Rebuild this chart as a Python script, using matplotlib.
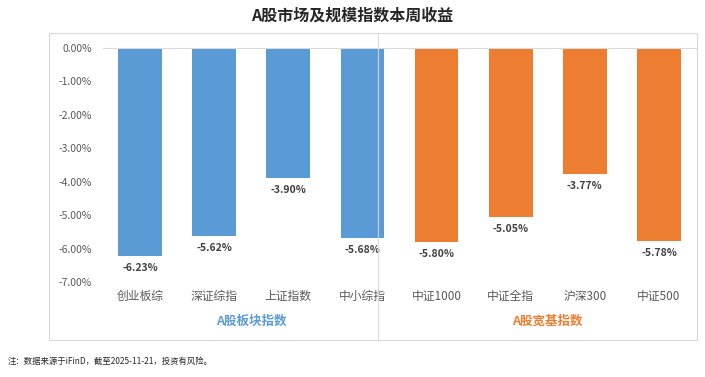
import matplotlib
matplotlib.use("Agg")
import matplotlib.pyplot as plt
from matplotlib.patches import Rectangle
from matplotlib.lines import Line2D

plt.rcParams['font.family'] = ['Noto Sans CJK SC', 'DejaVu Sans']

categories = ["创业板综", "深证综指", "上证指数", "中小综指", "中证1000", "中证全指", "沪深300", "中证500"]
values = [-6.23, -5.62, -3.90, -5.68, -5.80, -5.05, -3.77, -5.78]
groups = ["A股板块指数", "A股宽基指数"]
group_sizes = [4, 4]
yticks = [0, -1, -2, -3, -4, -5, -6, -7]
title = "A股市场及规模指数本周收益"
note = "注：数据来源于iFinD，截至2025-11-21，投资有风险。"

blue = "#5B9BD5"
orange = "#ED7D31"
group_colors = [blue, orange]
colors = []
for c, n in zip(group_colors, group_sizes):
    colors += [c] * n

fig = plt.figure(figsize=(7.05, 3.77), dpi=100)
ax = fig.add_axes([103/705, 1 - 282/377, (696-103)/705, (282-48)/377])

x = list(range(len(categories)))
ax.bar(x, values, width=0.59, color=colors, zorder=2)
ax.set_ylim(-7, 0)
ax.set_xlim(-0.5, len(categories) - 0.5)
ax.set_yticks(yticks)
ax.set_yticklabels([f"{v:.2f}%" for v in yticks], color="#595959", fontsize=7.5)
ax.set_xticks(x)
ax.set_xticklabels(categories, color="#595959", fontsize=8.5)
ax.tick_params(axis='both', length=0)
ax.tick_params(axis='y', pad=8)
ax.tick_params(axis='x', pad=6)
for s in ["left", "right", "bottom"]:
    ax.spines[s].set_visible(False)
ax.spines["top"].set_color("#D9D9D9")
ax.spines["top"].set_linewidth(0.8)

for xi, v in zip(x, values):
    ax.annotate(f"{v:.2f}%", (xi, v), xytext=(0, -5), textcoords="offset points",
                ha="center", va="top", fontsize=7.5, fontweight="bold", color="#404040")

# group labels
start = 0
gy = 1 - (321 - 48) / (282 - 48)
for g, n, c in zip(groups, group_sizes, group_colors):
    center = start + (n - 1) / 2
    ax.text(center, gy, g, transform=ax.get_xaxis_transform(), ha="center", va="center",
            fontsize=9, fontweight="bold", color=c)
    start += n

# chart border
fig.add_artist(Rectangle((49/705, 1 - 340/377), (697-49)/705, (340-33)/377,
                         transform=fig.transFigure, fill=False, edgecolor="#D9D9D9", linewidth=0.8))
# group separator (overlaps the right edge of the 4th bar, as in the reference)
sep_x = 3.21
xf = fig.transFigure.inverted().transform(ax.transData.transform((sep_x, 0)))[0]
fig.add_artist(Line2D([xf, xf], [1 - 340/377, 1 - 33/377], transform=fig.transFigure,
                      color="#D9D9D9", linewidth=0.9, alpha=0.85))

fig.text(352/705, 1 - 16/377, title, ha="center", va="center", fontsize=11.5, fontweight="bold", color="#262626")
fig.text(8/705, 1 - 361/377, note, ha="left", va="center", fontsize=6, color="#262626")

fig.savefig("out.png", dpi=100)
